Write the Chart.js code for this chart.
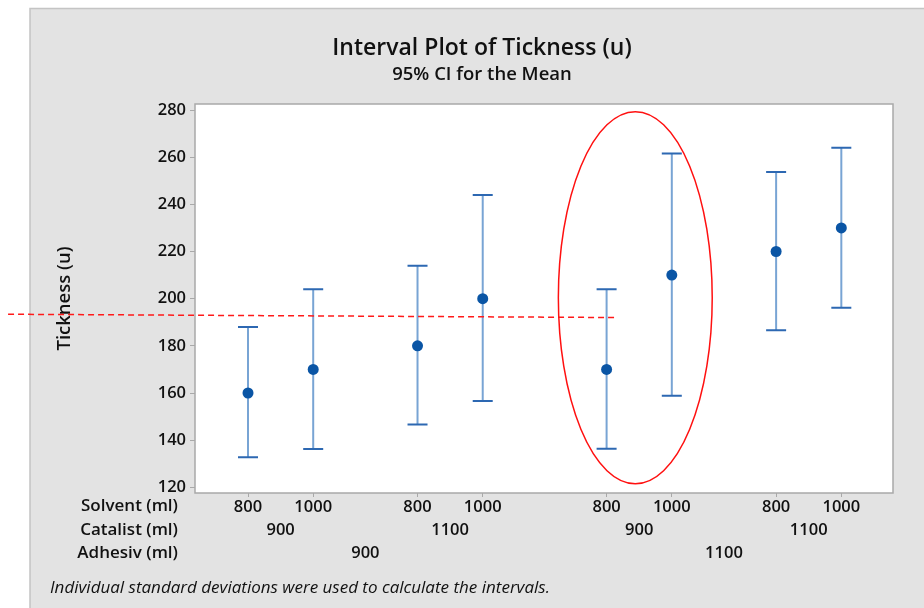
<!DOCTYPE html>
<html>
<head>
<meta charset="utf-8">
<script src="https://cdn.jsdelivr.net/npm/chart.js@4.4.1/dist/chart.umd.min.js"></script>
<style>
  html, body { margin: 0; padding: 0; background: #ffffff; }
  #wrap { width: 924px; height: 608px; }
</style>
</head>
<body>
<div id="wrap"><canvas id="c" width="924" height="608"></canvas></div>
<script>
// Factor levels for each interval (solvent within catalyst within adhesive)
const solvent  = ['800', '1000', '800', '1000', '800', '1000', '800', '1000'];
const catalyst = ['900', '900', '1100', '1100', '900', '900', '1100', '1100'];
const adhesive = ['900', '900', '900', '900', '1100', '1100', '1100', '1100'];

// Thickness means and 95% CI bounds (u)
const means = [160, 170, 180, 200, 170, 210, 220, 230];
const lower = [132.8, 136.3, 146.6, 156.6, 136.4, 158.8, 186.6, 196.2];
const upper = [188.0, 204.0, 214.0, 244.0, 204.0, 261.6, 253.7, 264.0];

// Y axis tick labels
const yTicks = [120, 140, 160, 180, 200, 220, 240, 260, 280];

// Reference line and highlight ellipse (in axis units)
const guideX = [-3.68, 5.66];
const guideY = [193.4, 192.0];
const ellipseCentre = [5.94, 200.4];
const ellipseRadii = [1.18, 78.9];

// Horizontal positions: extra space between catalyst groups and between adhesive groups
const positions = [];
{
  let catBreaks = 0, adhBreaks = 0;
  for (let i = 0; i < solvent.length; i++) {
    if (i > 0 && catalyst[i] !== catalyst[i - 1]) catBreaks++;
    if (i > 0 && adhesive[i] !== adhesive[i - 1]) adhBreaks++;
    positions.push(i + 0.6 * catBreaks + 0.3 * adhBreaks);
  }
}

// Group label rows: centred under their members
function groupCentres(levels) {
  const out = [];
  let start = 0;
  for (let i = 1; i <= levels.length; i++) {
    if (i === levels.length || levels[i] !== levels[start] ||
        (levels === catalyst && adhesive[i] !== adhesive[start])) {
      out.push({ label: levels[start], value: (positions[start] + positions[i - 1]) / 2 });
      start = i;
    }
  }
  return out;
}

const FONT = '"Open Sans", "Noto Sans", sans-serif';
const INK = '#111111';

const panelPlugin = {
  id: 'panel',
  beforeDraw(chart) {
    const ctx = chart.ctx;
    ctx.save();
    ctx.fillStyle = '#ffffff';
    ctx.fillRect(0, 0, chart.width, chart.height);
    ctx.fillStyle = '#e3e3e3';
    ctx.fillRect(30, 8, chart.width - 30, chart.height - 8);
    ctx.strokeStyle = '#c4c4c4';
    ctx.lineWidth = 1.5;
    ctx.beginPath();
    ctx.moveTo(30, chart.height);
    ctx.lineTo(30, 8.5);
    ctx.lineTo(chart.width, 8.5);
    ctx.stroke();
    const a = chart.chartArea;
    ctx.fillStyle = '#ffffff';
    ctx.fillRect(a.left, a.top, a.right - a.left, a.bottom - a.top);
    ctx.restore();
  }
};

const intervalPlugin = {
  id: 'intervals',
  beforeDatasetsDraw(chart) {
    const ctx = chart.ctx;
    const xs = chart.scales.x, ys = chart.scales.y;
    ctx.save();
    for (let i = 0; i < means.length; i++) {
      const x = xs.getPixelForValue(positions[i]);
      const yl = ys.getPixelForValue(lower[i]);
      const yh = ys.getPixelForValue(upper[i]);
      ctx.strokeStyle = '#78a4d4';
      ctx.lineWidth = 2;
      ctx.beginPath();
      ctx.moveTo(x, yl);
      ctx.lineTo(x, yh);
      ctx.stroke();
      ctx.strokeStyle = '#2d68b2';
      ctx.beginPath();
      ctx.moveTo(x - 10, yl); ctx.lineTo(x + 10, yl);
      ctx.moveTo(x - 10, yh); ctx.lineTo(x + 10, yh);
      ctx.stroke();
    }
    ctx.restore();
  },
  afterDatasetsDraw(chart) {
    const ctx = chart.ctx;
    const xs = chart.scales.x, ys = chart.scales.y;
    const cx = xs.getPixelForValue(ellipseCentre[0]);
    const cy = ys.getPixelForValue(ellipseCentre[1]);
    const rx = Math.abs(xs.getPixelForValue(ellipseCentre[0] + ellipseRadii[0]) - cx);
    const ry = Math.abs(ys.getPixelForValue(ellipseCentre[1] + ellipseRadii[1]) - cy);
    ctx.save();
    ctx.strokeStyle = '#ff1010';
    ctx.lineWidth = 1.5;
    ctx.beginPath();
    ctx.ellipse(cx, cy, rx, ry, 0, 0, Math.PI * 2);
    ctx.stroke();
    ctx.restore();
  }
};

const framePlugin = {
  id: 'frameAndText',
  afterDraw(chart) {
    const ctx = chart.ctx;
    const a = chart.chartArea;
    const xs = chart.scales.x;
    ctx.save();
    ctx.strokeStyle = '#a9a9a9';
    ctx.lineWidth = 1.5;
    ctx.strokeRect(a.left, a.top, a.right - a.left, a.bottom - a.top);

    ctx.fillStyle = INK;
    ctx.textBaseline = 'middle';
    ctx.textAlign = 'center';
    ctx.font = '600 23px ' + FONT;
    ctx.fillText('Interval Plot of Tickness (u)', 482, 48);
    ctx.font = '600 18.5px ' + FONT;
    ctx.fillText('95% CI for the Mean', 482, 75);

    ctx.font = '600 16.5px ' + FONT;
    groupCentres(catalyst).forEach(g => ctx.fillText(g.label, xs.getPixelForValue(g.value), 530));
    groupCentres(adhesive).forEach(g => ctx.fillText(g.label, xs.getPixelForValue(g.value), 553));

    ctx.textAlign = 'right';
    ctx.font = '600 17px ' + FONT;
    ctx.fillText('Solvent (ml)', 178, 506);
    ctx.fillText('Catalist (ml)', 178, 530);
    ctx.fillText('Adhesiv (ml)', 178, 553);

    ctx.textAlign = 'left';
    ctx.font = 'italic 17px ' + FONT;
    ctx.fillText('Individual standard deviations were used to calculate the intervals.', 50, 588);
    ctx.restore();
  }
};

new Chart(document.getElementById('c'), {
  type: 'scatter',
  data: {
    datasets: [
      {
        label: 'Mean',
        data: means.map((m, i) => ({ x: positions[i], y: m })),
        pointRadius: 5.5,
        pointHoverRadius: 5.5,
        pointBackgroundColor: '#0a55a5',
        pointBorderColor: '#0a55a5',
        pointBorderWidth: 0
      },
      {
        type: 'line',
        label: 'Reference',
        data: guideX.map((x, i) => ({ x, y: guideY[i] })),
        borderColor: '#ff1a1a',
        borderWidth: 1.5,
        borderDash: [6, 4],
        pointRadius: 0,
        fill: false,
        clip: false
      }
    ]
  },
  options: {
    responsive: false,
    animation: false,
    events: [],
    layout: { padding: { left: 0, top: 104, right: 31, bottom: 0 } },
    plugins: {
      legend: { display: false },
      tooltip: { enabled: false },
      title: { display: false }
    },
    scales: {
      x: {
        type: 'linear',
        min: (195 - 248) / 65.2,
        max: (893 - 248) / 65.2,
        afterFit(scale) { scale.height = 115; },
        afterBuildTicks(scale) { scale.ticks = positions.map(v => ({ value: v })); },
        grid: { drawOnChartArea: false, color: '#a9a9a9', tickLength: 4, lineWidth: 1 },
        border: { display: false },
        ticks: {
          autoSkip: false,
          maxRotation: 0,
          padding: 0,
          color: INK,
          font: { family: FONT, size: 16.5, weight: '600' },
          callback: (v, i) => solvent[i]
        }
      },
      y: {
        min: 117.6,
        max: 282.55,
        afterFit(scale) { scale.width = 195; },
        afterBuildTicks(scale) { scale.ticks = yTicks.map(v => ({ value: v })); },
        grid: { drawOnChartArea: false, color: '#a9a9a9', tickLength: 5, lineWidth: 1 },
        border: { display: false },
        ticks: {
          padding: 4,
          color: INK,
          font: { family: FONT, size: 16.5, weight: '600' }
        },
        title: {
          display: true,
          text: 'Tickness (u)',
          color: INK,
          font: { family: FONT, size: 18.5, weight: '600' },
          padding: { top: 54, bottom: 0 }
        }
      }
    }
  },
  plugins: [panelPlugin, intervalPlugin, framePlugin]
});
</script>
</body>
</html>
